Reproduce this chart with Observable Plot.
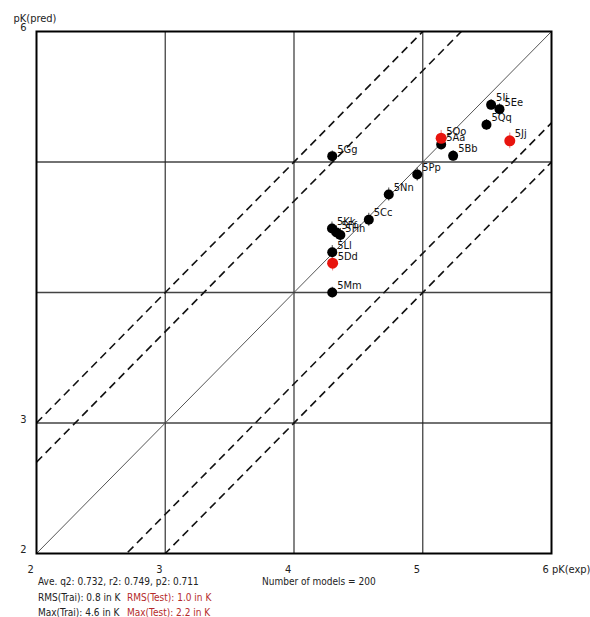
<!DOCTYPE html>
<html><head><meta charset="utf-8">
<script src="https://cdn.jsdelivr.net/npm/d3@7"></script>
<script src="https://cdn.jsdelivr.net/npm/@observablehq/plot@0.6"></script>
<style>
body{margin:0;background:#fff;font-family:"DejaVu Sans Condensed","DejaVu Sans",sans-serif;}
#wrap{position:relative;width:590px;height:617px;}
#stats{position:absolute;left:38px;top:574px;font-size:10px;line-height:15.5px;color:#222;white-space:pre;}
#stats .r{color:#b52a2a;}
</style></head>
<body><div id="wrap"><div id="chart"></div>
<div id="stats"><div>Ave. q2: 0.732, r2: 0.749, p2: 0.711<span style="position:absolute;left:224px">Number of models = 200</span></div><div>RMS(Trai): 0.8 in K<span class="r" style="position:absolute;left:89px">RMS(Test): 1.0 in K</span></div><div>Max(Trai): 4.6 in K<span class="r" style="position:absolute;left:89px">Max(Test): 2.2 in K</span></div></div></div>
<script>
// Compound names, experimental and predicted pK, and set (train/test)
const names = ["5Kk","5Ff","5Hh","5Ll","5Dd","5Mm","5Cc","5Gg","5Pp","5Nn","5Ii","5Ee","5Qq","5Aa","5Oo","5Jj","5Bb"];
const pkExp = [4.295,4.33,4.36,4.297,4.30,4.297,4.581,4.297,4.957,4.736,5.531,5.596,5.495,5.143,5.143,5.676,5.236];
const pkPred = [4.49,4.46,4.44,4.309,4.225,4.0,4.557,5.045,4.904,4.751,5.438,5.405,5.285,5.134,5.182,5.162,5.047];
const set = ["train","train","train","train","test","train","train","train","train","train","train","train","train","train","test","test","train"];
const errHalf = [0.05,0.05,0.05,0.05,0.06,0.04,0.05,0.04,0.05,0.05,0.04,0.04,0.04,0.04,0.06,0.06,0.04];
// reference lines: y = x + offset
const lineOffsets = [0, 1, 0.7, -0.7, -1];
const xTicks = [2,3,4,5,6];
const yTicks = [2,3,6];
const gridVals = [3,4,5];

const pts = names.map((n,i)=>({name:n,x:pkExp[i],y:pkPred[i],set:set[i],e:errHalf[i]}));
const lines = lineOffsets.map(o=>({o,x1:2,y1:2+o,x2:6,y2:6+o}));
const train = pts.filter(d=>d.set==="train");
const test = pts.filter(d=>d.set==="test");

const chart = Plot.plot({
  width:590, height:617,
  marginLeft:36, marginRight:39, marginTop:31, marginBottom:64,
  style:{fontFamily:"DejaVu Sans Condensed, DejaVu Sans, sans-serif", fontSize:"10px", background:"#fff", color:"#222"},
  x:{domain:[2,6]}, y:{domain:[2,6]},
  marks:[
    Plot.gridX(gridVals,{stroke:"#222",strokeOpacity:0.85,strokeWidth:1.3}),
    Plot.gridY(gridVals,{stroke:"#222",strokeOpacity:0.85,strokeWidth:1.3}),
    Plot.link(lines.filter(d=>d.o===0),{x1:"x1",y1:"y1",x2:"x2",y2:"y2",stroke:"#555",strokeWidth:1,clip:true}),
    Plot.link(lines.filter(d=>d.o!==0),{x1:"x1",y1:"y1",x2:"x2",y2:"y2",stroke:"#111",strokeWidth:1.6,strokeDasharray:"8,5",clip:true}),
    Plot.ruleX(train,{x:"x",y1:d=>d.y-d.e,y2:d=>d.y+d.e,stroke:"#444",strokeWidth:1}),
    Plot.ruleX(test,{x:"x",y1:d=>d.y-d.e,y2:d=>d.y+d.e,stroke:"#f08080",strokeWidth:1}),
    Plot.dot(train,{x:"x",y:"y",r:5,fill:"#000"}),
    Plot.dot(test,{x:"x",y:"y",r:5.5,fill:"#e8140e"}),
    Plot.text(pts,{x:"x",y:"y",text:"name",textAnchor:"start",dx:5,dy:-7,fontSize:11,fill:"#111"}),
    Plot.frame({stroke:"#000",strokeWidth:2}),
    Plot.axisX(xTicks,{anchor:"bottom",tickSize:0,tickPadding:12,textAnchor:"start",dx:-9,label:null,
      tickFormat:d=>d===6?"6 pK(exp)":String(d),fontSize:11}),
    Plot.axisY(yTicks,{anchor:"left",tickSize:0,tickPadding:10,dy:-4,label:null,fontSize:11,tickFormat:d=>String(d)}),
    Plot.text(["pK(pred)"],{frameAnchor:"top-left",dx:-23,dy:-17,textAnchor:"start",fontSize:11})
  ]
});
document.getElementById("chart").appendChild(chart);
</script></body></html>
